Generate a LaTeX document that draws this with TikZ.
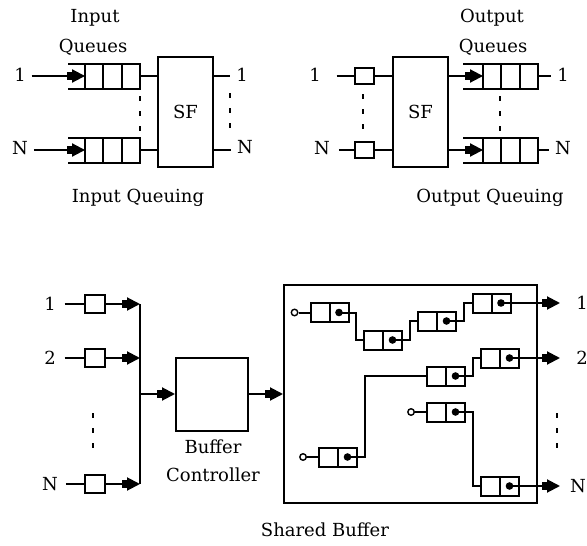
\documentclass[tikz,border=0pt]{standalone}
\usepackage{fontspec}
\setmainfont{DejaVu Serif}
\usetikzlibrary{arrows.meta, positioning}

\begin{document}
\begin{tikzpicture}[
    x=1pt, y=-1pt,
    line width=2pt,
    lab/.style={inner sep=5pt, font=\fontsize{18}{21}\selectfont},
    qcell/.style={draw, minimum width=18.3pt, minimum height=25pt,
                inner sep=0pt, outer sep=0pt},
    sbox/.style={draw, minimum width=19pt, minimum height=16pt,
                inner sep=0pt, outer sep=0pt},
    pcell/.style={draw, minimum width=19pt, minimum height=19pt,
                inner sep=0pt, outer sep=0pt},
    sfbox/.style={draw, minimum width=55pt, minimum height=110pt,
                inner sep=0pt, outer sep=0pt,
                font=\fontsize{18}{21}\selectfont},
    headc/.style={draw, circle, minimum size=6.5pt, inner sep=0pt,
                line width=1.4pt},
    arr/.style={-{Rectangle[length=5pt, width=8pt]Triangle[length=13pt, width=13pt]}},
    vdots/.style={dash pattern=on 5pt off 10pt},
  ]
    \useasboundingbox (0,0) rectangle (587,546);

    % Input queuing
    \node[lab] (iqt1) at (95,18) {Input};
    \node[lab] (iqt2) at (93,47) {Queues};
    \node[sfbox] (sfin) at (185.5,112) {SF};

    \node[qcell] (qa1) at (94.2,76) {};
    \node[qcell, right=0pt of qa1] (qa2) {};
    \node[qcell, right=0pt of qa2] (qa3) {};
    \node[qcell] (qb1) at (94.2,150) {};
    \node[qcell, right=0pt of qb1] (qb2) {};
    \node[qcell, right=0pt of qb2] (qb3) {};
    \draw (qa1.north west) -- ++(-17,0);
    \draw (qa1.south west) -- ++(-17,0);
    \draw (qb1.north west) -- ++(-17,0);
    \draw (qb1.south west) -- ++(-17,0);

    \node[lab] (in1) at (20,75) {1};
    \node[lab] (inN) at (20,148) {N};
    \node[lab] (io1) at (242,75) {1};
    \node[lab] (ioN) at (245,147) {N};

    \draw[arr] (in1.east |- qa1) -- (qa1.west);
    \draw[arr] (inN.east |- qb1) -- (qb1.west);
    \draw (qa3) -- (qa3 -| sfin.west);
    \draw (qb3) -- (qb3 -| sfin.west);
    \draw (sfin.east |- qa1) -- (io1.west |- qa1);
    \draw (sfin.east |- qb1) -- (ioN.west |- qb1);
    \draw[vdots] (140,96) -- (140,131);
    \draw[vdots] (230,93) -- (230,128);
    \node[lab] (iql) at (138,198) {Input Queuing};

    % Output queuing
    \node[lab] (oqt1) at (492,18) {Output};
    \node[lab] (oqt2) at (493,47) {Queues};
    \node[sfbox] (sfout) at (420.5,112) {SF};

    \node[sbox] (ob1) at (364.5,76) {};
    \node[sbox] (obN) at (364.5,150) {};
    \node[lab] (on1) at (315,75) {1};
    \node[lab] (onN) at (322,148) {N};
    \draw[shorten <=10pt] (on1.east |- ob1) -- (ob1.west);
    \draw[shorten <=3pt] (onN.east |- obN) -- (obN.west);
    \draw (ob1) -- (ob1 -| sfout.west);
    \draw (obN) -- (obN -| sfout.west);

    \node[qcell] (oqa1) at (492.2,76) {};
    \node[qcell, right=0pt of oqa1] (oqa2) {};
    \node[qcell, right=0pt of oqa2] (oqa3) {};
    \node[qcell] (oqb1) at (492.2,150) {};
    \node[qcell, right=0pt of oqb1] (oqb2) {};
    \node[qcell, right=0pt of oqb2] (oqb3) {};
    \draw (oqa1.north west) -- ++(-20,0);
    \draw (oqa1.south west) -- ++(-20,0);
    \draw (oqb1.north west) -- ++(-20,0);
    \draw (oqb1.south west) -- ++(-20,0);

    \draw[arr] (sfout.east |- oqa1) -- (oqa1.west);
    \draw[arr] (sfout.east |- oqb1) -- (oqb1.west);
    \node[lab] (oo1) at (563,75) {1};
    \node[lab] (ooN) at (563,148) {N};
    \draw (oqa3) -- (oo1.west |- oqa3);
    \draw (oqb3) -- (ooN.west |- oqb3);
    \draw[vdots] (363,94) -- (363,129);
    \draw[vdots] (500,96) -- (500,131);
    \node[lab] (oql) at (490,198) {Output Queuing};

    % Shared buffer: inputs and controller
    \node[lab] (bi1) at (50,304) {1};
    \node[lab] (bi2) at (50,358) {2};
    \node[lab] (biN) at (50,484) {N};
    \node[sbox, minimum width=20pt, minimum height=18pt] (bb1) at (95,304) {};
    \node[sbox, minimum width=20pt, minimum height=18pt] (bb2) at (95,358) {};
    \node[sbox, minimum width=20pt, minimum height=18pt] (bbN) at (95,484) {};
    \coordinate (bustop) at (140,304);
    \coordinate (busbot) at (140,484);

    \draw[shorten <=3pt] (bi1) -- (bb1);
    \draw[shorten <=3pt] (bi2) -- (bb2);
    \draw[shorten <=2pt] (biN) -- (bbN);
    \draw[arr] (bb1) -- (bb1 -| bustop);
    \draw[arr] (bb2) -- (bb2 -| bustop);
    \draw[arr] (bbN) -- (bbN -| bustop);
    \draw (bustop) -- (busbot);
    \draw[vdots] (93,413) -- (93,448);

    \node[draw, minimum width=72pt, minimum height=73pt] (ctrl) at (212,394) {};
    \node[lab] (ctl1) at (213,447) {Buffer};
    \node[lab] (ctl2) at (213,475) {Controller};
    \draw[arr] (ctrl.west -| bustop) -- (ctrl.west);

    \node[draw, minimum width=253pt, minimum height=218pt] (shbuf) at (410.5,394) {};
    \draw[arr] (ctrl) -- (shbuf);
    \node[lab] (shl) at (325,530) {Shared Buffer};

    % Linked cells inside the shared buffer
    \foreach \n/\x/\y in {a1/329.5/312.5, a2/383/340, a3/437/321, a4/491.5/303,
                          b1/338/457, b2/446/376, b3/500/358,
                          c1/446/412, c2/500/486} {
      \node[pcell] (l\n) at (\x-9.5,\y) {};
      \node[pcell] (r\n) at (\x+9.5,\y) {};
      \fill (r\n.center) circle (3.8pt);
    }
    \node[headc, left=12pt of la1] (ha1) {};
    \node[headc, left=12pt of lb1] (hb1) {};
    \node[headc, left=12pt of lc1] (hc1) {};
    \draw (ha1) -- (la1);
    \draw (hb1) -- (lb1);
    \draw (hc1) -- (lc1);

    \draw (ra1.center) -- ++(17,0) |- (la2.west);
    \draw (ra2.center) -- ++(17,0) |- (la3.west);
    \draw (ra3.center) -- ++(17,0) |- (la4.west);
    \draw (rb1.center) -- ++(17,0) |- (lb2.west);
    \draw (rb2.center) -- ++(17,0) |- (lb3.west);
    \draw (rc1.center) -- ++(17,0) |- (lc2.west);

    % Outputs
    \coordinate (otip) at (560,394);
    \node[lab] (so1) at (582,303) {1};
    \node[lab] (so2) at (582,358) {2};
    \node[lab] (soN) at (578,486) {N};
    \draw[arr] (ra4.center) -- (ra4.center -| otip);
    \draw[arr] (rb3.center) -- (rb3.center -| otip);
    \draw[arr] (rc2.center) -- (rc2.center -| otip);
    \draw[vdots] (557,413) -- (557,448);
  \end{tikzpicture}
\end{document}
